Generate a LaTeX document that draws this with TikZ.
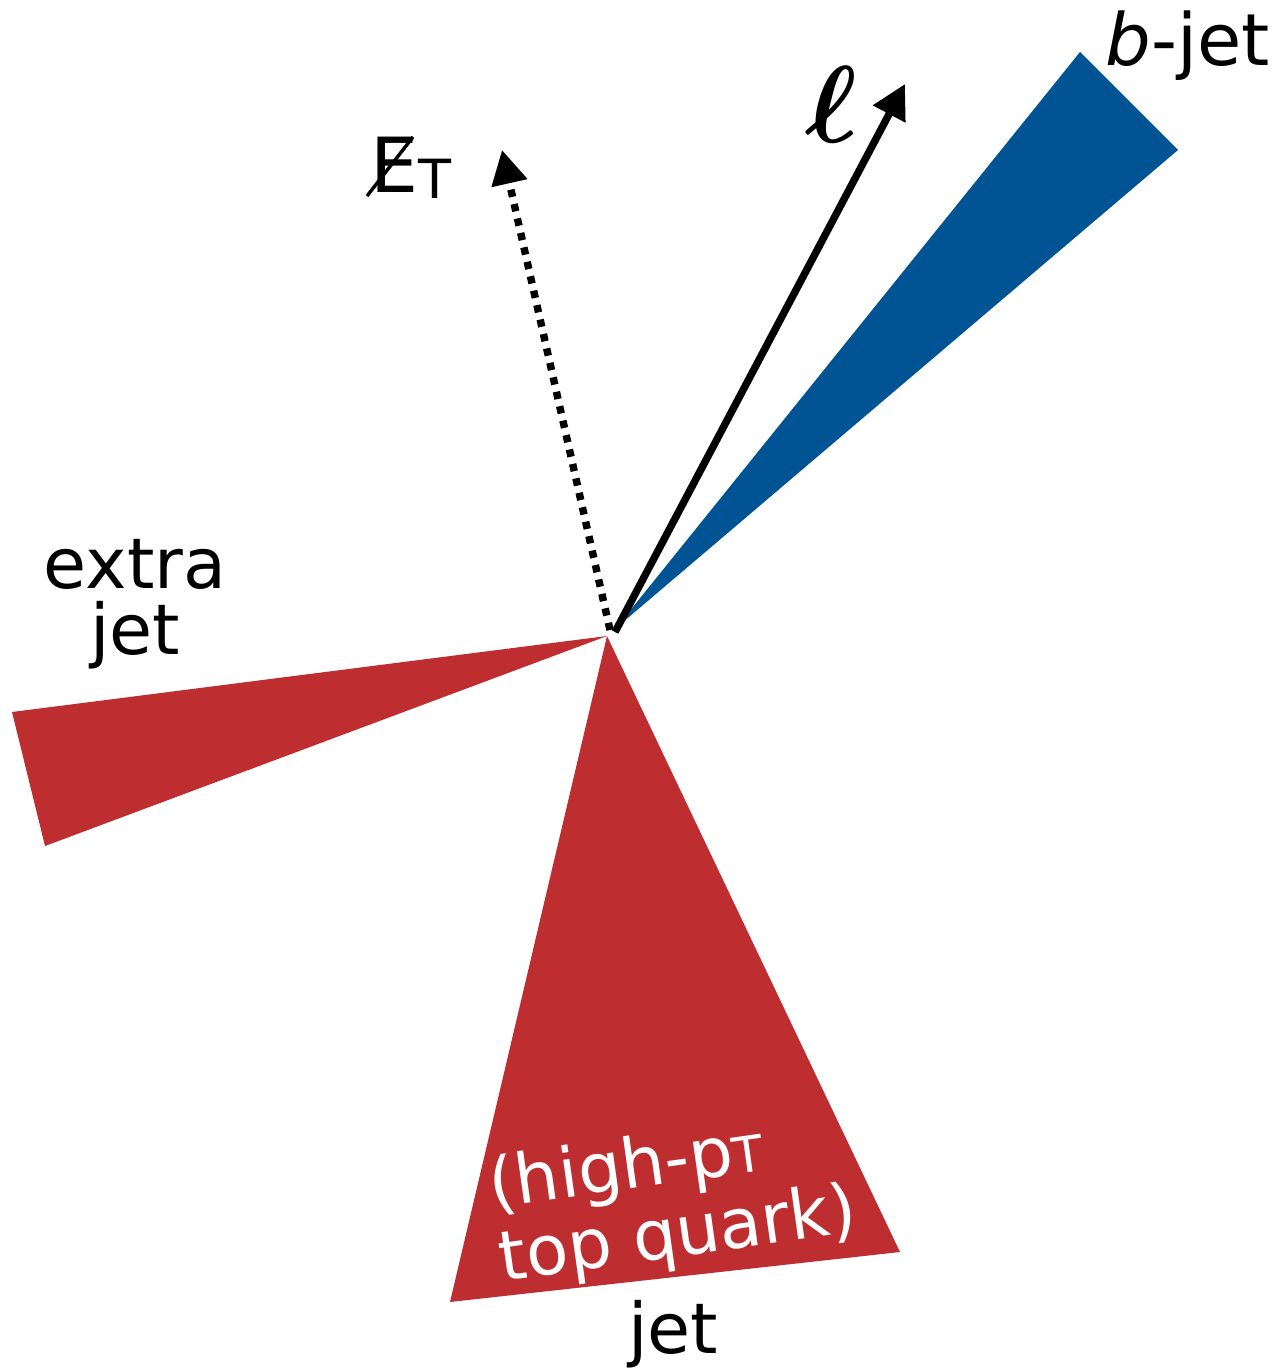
\documentclass[tikz,border=0pt]{standalone}
\usepackage{fontspec}
\setmainfont{DejaVu Sans}
\usepackage{bm}
\usepackage{graphicx}
\usetikzlibrary{arrows.meta}
\definecolor{jetred}{RGB}{190,45,48}
\definecolor{jetblue}{RGB}{0,84,147}
\begin{document}
\begin{tikzpicture}[x=0.5pt,y=-0.5pt,
  lbl/.style={font=\fontsize{35}{33}\selectfont, inner sep=0pt, align=center},
  arr/.style={line width=3.7pt, -{Triangle[length=17pt,width=17.5pt]}},
  redjet/.style={fill=jetred, draw=none},
  bluejet/.style={fill=jetblue, draw=none}]
\useasboundingbox (0,0) rectangle (1283,1369);
% vertex
\coordinate (v) at (607,636);
% jets
\fill[bluejet] (616,628) -- (1080,52) -- (1178,150) -- cycle;
\fill[redjet] (v) -- (12,712) -- (45,846) -- cycle;
\fill[redjet] (v) -- (450,1302) -- (900,1252) -- cycle;
% arrows
\coordinate (lstart) at (615,632);
\coordinate (ltip) at (905,84);
\coordinate (mstart) at (610,630);
\coordinate (mtip) at (502,150);
\draw[arr] (lstart) -- (ltip);
\draw[arr, dash pattern=on 3.7pt off 3.7pt] (mstart) -- (mtip);
% labels
\node[lbl] (ell) at (831,104) {\scalebox{2.2}{$\bm{\ell}$}};
\node[lbl, font=\fontsize{38}{38}\selectfont] (met) at (411,168)
  {E\raisebox{-3pt}{\fontsize{27}{27}\selectfont T}};
\coordinate (slashA) at (367,196);
\coordinate (slashB) at (413,137);
\draw[line width=1.7pt] (slashA) -- (slashB);
\node[lbl, font=\fontsize{36}{36}\selectfont] (bjet) at (1188,46) {\textit{b}-jet};
\node[lbl] (extra) at (135,604) {extra\\jet};
\node[lbl] (jet) at (673,1334) {jet};
\node[lbl, font=\fontsize{34.5}{37}\selectfont, text=white, align=left, rotate=8]
  (tq) at (673,1201) {(high-p{\fontsize{25}{25}\selectfont T}\\top quark)};
\end{tikzpicture}
\end{document}
